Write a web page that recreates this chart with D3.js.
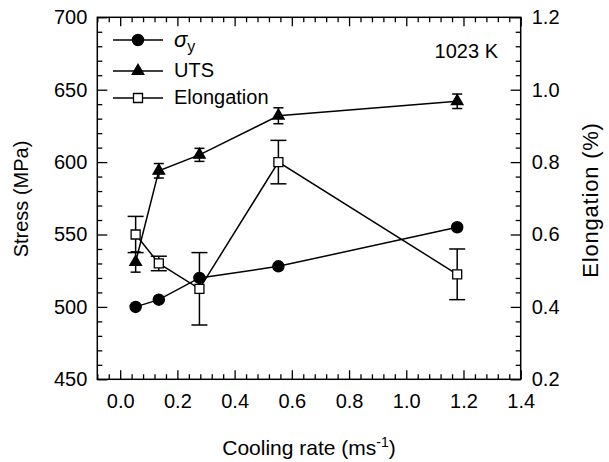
<!DOCTYPE html>
<html>
<head>
<meta charset="utf-8">
<script src="https://cdn.jsdelivr.net/npm/d3@7"></script>
<style>
  body { margin: 0; background: #fff; }
  text { font-family: "Liberation Sans", Arial, Helvetica, sans-serif; fill: #000; }
</style>
</head>
<body>
<div id="chart"></div>
<script>
// tick labels
const xTicks = [0.0, 0.2, 0.4, 0.6, 0.8, 1.0, 1.2, 1.4];
const stressTicks = [450, 500, 550, 600, 650, 700];
const elongTicks = [0.2, 0.4, 0.6, 0.8, 1.0, 1.2];

// data
const coolingRate = [0.054, 0.135, 0.277, 0.553, 1.178];
const yieldStress = [500, 505, 520, 528, 555];
const uts = [531, 594, 605, 632, 642];
const utsErr = [7, 5, 4.5, 5.5, 5];
const elongation = [0.60, 0.52, 0.45, 0.80, 0.49];
const elongErr = [0.05, 0.02, 0.10, 0.06, 0.07];

const W = 609, H = 462;
const margin = {left: 97.3, top: 17.3, right: 609 - 520.7, bottom: 462 - 379.3};
const width = W - margin.left - margin.right;
const height = H - margin.top - margin.bottom;

let svg = d3.select("#chart").append("svg")
    .attr("width", W)
    .attr("height", H);

let g = svg.append("g")
    .attr("transform", "translate(" + margin.left + "," + margin.top + ")");

const x = d3.scaleLinear().domain([-0.08, 1.4]).range([0, width]);
const yS = d3.scaleLinear().domain([450, 700]).range([height, 0]);
const yE = d3.scaleLinear().domain([0.2, 1.2]).range([height, 0]);

// minor tick positions (no labels)
const close = (a, list) => list.some(v => Math.abs(v - a) < 1e-6);
const xMinor = d3.range(-2, 36).map(i => i * 0.04).filter(v => !close(v, xTicks));
const sMinor = d3.range(45, 71).map(i => i * 10).filter(v => !close(v, stressTicks));
const eMinor = d3.range(5, 31).map(i => i * 0.04).filter(v => !close(v, elongTicks));

const fmt1 = d3.format(".1f");

// bottom axis
g.append("g").attr("transform", "translate(0," + height + ")")
    .call(d3.axisBottom(x).tickValues(xTicks).tickFormat(fmt1).tickSize(-9).tickPadding(15));
g.append("g").attr("transform", "translate(0," + height + ")")
    .call(d3.axisBottom(x).tickValues(xMinor).tickFormat("").tickSize(-5));
// top axis (mirror ticks)
g.append("g")
    .call(d3.axisTop(x).tickValues(xTicks).tickFormat("").tickSize(-9));
g.append("g")
    .call(d3.axisTop(x).tickValues(xMinor).tickFormat("").tickSize(-5));
// left axis
g.append("g")
    .call(d3.axisLeft(yS).tickValues(stressTicks).tickFormat(d3.format("d")).tickSize(-10).tickPadding(10));
g.append("g")
    .call(d3.axisLeft(yS).tickValues(sMinor).tickFormat("").tickSize(-5));
// right axis
g.append("g").attr("transform", "translate(" + width + ",0)")
    .call(d3.axisRight(yE).tickValues(elongTicks).tickFormat(fmt1).tickSize(-10).tickPadding(11));
g.append("g").attr("transform", "translate(" + width + ",0)")
    .call(d3.axisRight(yE).tickValues(eMinor).tickFormat("").tickSize(-5));

g.selectAll(".domain").remove();
g.selectAll(".tick line").attr("stroke", "#000").attr("stroke-width", 1.3);
g.selectAll(".tick text").style("font-size", "20px").attr("fill", "#000")
    .style("font-family", "'Liberation Sans', Arial, sans-serif");

// frame
g.append("rect")
    .attr("width", width).attr("height", height)
    .attr("fill", "none").attr("stroke", "#000").attr("stroke-width", 1.5);

// series lines
function draw_line(values, yScale)
{
    const line = d3.line()
        .x((d, i) => x(coolingRate[i]))
        .y(d => yScale(d));
    g.append("path")
        .datum(values)
        .attr("d", line)
        .attr("fill", "none")
        .attr("stroke", "#000")
        .attr("stroke-width", 1.5);
}
draw_line(yieldStress, yS);
draw_line(uts, yS);
draw_line(elongation, yE);

// error bars
function draw_errors(values, errs, yScale, capHalf)
{
    for (let i = 0; i < values.length; i++)
    {
        const cx = x(coolingRate[i]);
        const y1 = yScale(values[i] + errs[i]);
        const y2 = yScale(values[i] - errs[i]);
        g.append("line").attr("x1", cx).attr("x2", cx).attr("y1", y1).attr("y2", y2)
            .attr("stroke", "#000").attr("stroke-width", 1.5);
        [y1, y2].forEach(yy => {
            g.append("line").attr("x1", cx - capHalf).attr("x2", cx + capHalf)
                .attr("y1", yy).attr("y2", yy)
                .attr("stroke", "#000").attr("stroke-width", 1.5);
        });
    }
}
draw_errors(uts, utsErr, yS, 5);
draw_errors(elongation, elongErr, yE, 8);

// markers
const circleSym = d3.symbol().type(d3.symbolCircle).size(Math.PI * 5.6 * 5.6);
const triSym = d3.symbol().type(d3.symbolTriangle).size(58);
const squareSym = d3.symbol().type(d3.symbolSquare).size(81);

function draw_markers(values, yScale, sym, fill)
{
    g.selectAll(null)
        .data(values)
        .enter()
        .append("path")
        .attr("transform", (d, i) => "translate(" + x(coolingRate[i]) + "," + yScale(d) + ")")
        .attr("d", sym)
        .attr("fill", fill)
        .attr("stroke", "#000")
        .attr("stroke-width", 1.3);
}
draw_markers(yieldStress, yS, circleSym, "#000");
draw_markers(uts, yS, triSym, "#000");
draw_markers(elongation, yE, squareSym, "#fff");

// legend
const legendRows = [
    {sym: circleSym, fill: "#000", cy: 40, base: 47},
    {sym: triSym, fill: "#000", cy: 71, base: 77.3, label: "UTS"},
    {sym: squareSym, fill: "#fff", cy: 98, base: 104.3, label: "Elongation"}
];
legendRows.forEach((r, i) => {
    svg.append("line").attr("x1", 113).attr("x2", 163).attr("y1", r.cy).attr("y2", r.cy)
        .attr("stroke", "#000").attr("stroke-width", 1.5);
    svg.append("path").attr("transform", "translate(138," + r.cy + ")")
        .attr("d", r.sym).attr("fill", r.fill).attr("stroke", "#000").attr("stroke-width", 1.3);
    let t = svg.append("text").attr("x", 174).attr("y", r.base).style("font-size", "20px");
    if (i === 0)
    {
        t.append("tspan").style("font-style", "italic").style("font-size", "22px").text("σ");
        t.append("tspan").attr("dy", 5).style("font-size", "16px").text("y");
    }
    else
    {
        t.text(r.label);
    }
});

// annotation
svg.append("text").attr("x", 498).attr("y", 58).attr("text-anchor", "end")
    .style("font-size", "20px").text("1023 K");

// axis titles
let xt = svg.append("text").attr("x", 309).attr("y", 455).attr("text-anchor", "middle")
    .style("font-size", "21px");
xt.append("tspan").text("Cooling rate (ms");
xt.append("tspan").attr("dy", -8).style("font-size", "14px").text("-1");
xt.append("tspan").attr("dy", 8).text(")");

svg.append("text")
    .attr("transform", "translate(28,199) rotate(-90)")
    .attr("text-anchor", "middle")
    .style("font-size", "20px")
    .text("Stress (MPa)");

svg.append("text")
    .attr("transform", "translate(598,200) rotate(-90)")
    .attr("text-anchor", "middle")
    .style("font-size", "22px")
    .style("letter-spacing", "0.8px")
    .text("Elongation (%)");
</script>
</body>
</html>
